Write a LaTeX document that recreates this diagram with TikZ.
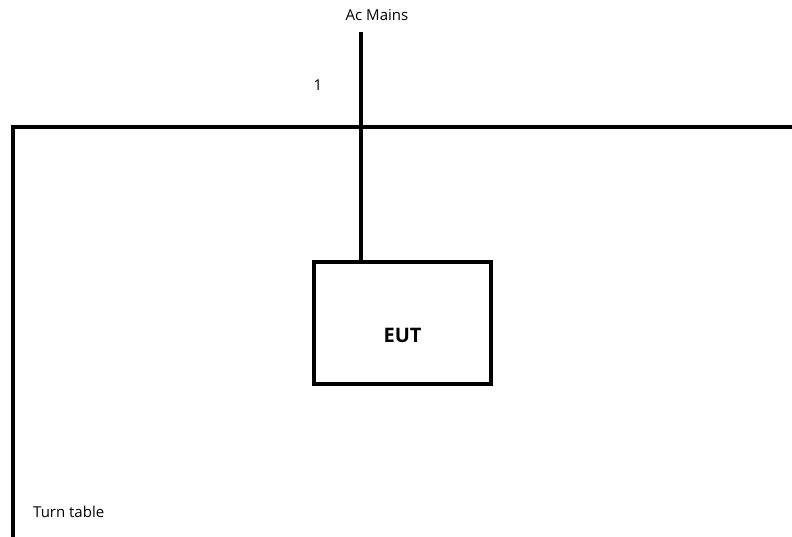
\documentclass[tikz,border=0pt]{standalone}
\usepackage{fontspec}
\setmainfont{Open Sans}
\usetikzlibrary{calc,positioning}

\begin{document}
\begin{tikzpicture}[x=1pt, y=-1pt,
    wire/.style={line width=4pt},
    unit/.style={draw,line width=4pt,minimum width=177pt,minimum height=122pt},
    euttext/.style={font=\bfseries\fontsize{20}{24}\selectfont},
    lbl/.style={font=\fontsize{15}{18}\selectfont,inner sep=0pt}]
\useasboundingbox (0,0) rectangle (792,537);
% turn table edge
\coordinate (tblbot) at (12.5,537);
\coordinate (tblright) at (792,127);
\draw[wire,line join=miter] (tblbot) |- (tblright);
\node[lbl,anchor=west] (tbl) at (33,512) {Turn table};
% equipment under test
\node[unit] (eut) at (402.5,323) {};
\node[euttext] (euttxt) at ([yshift=-12pt]eut.center) {EUT};
% mains lead
\coordinate (plug) at (361,32);
\coordinate (inlet) at (361,262);
\draw[wire] (plug) -- (inlet);
\node[lbl] (mains) at (377,15) {Ac Mains};
\node[lbl] (cable) at (318,85) {1};
\end{tikzpicture}
\end{document}
